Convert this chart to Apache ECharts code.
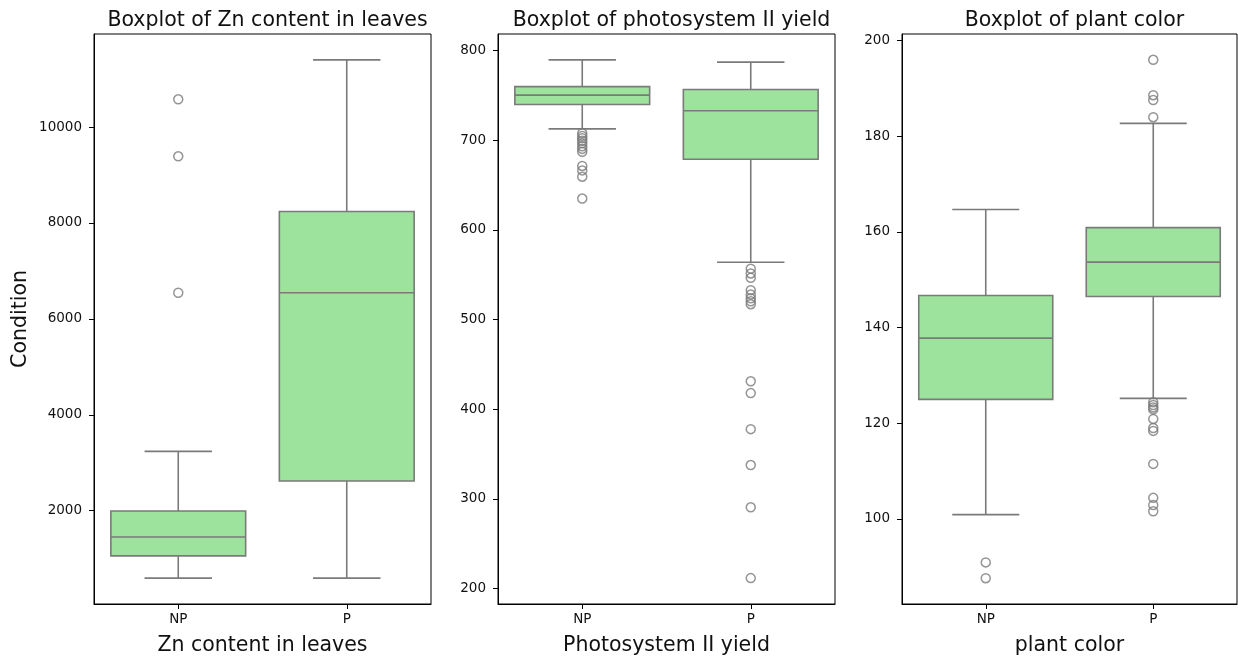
<!DOCTYPE html>
<html>
<head>
<meta charset="utf-8">
<script src="https://cdn.jsdelivr.net/npm/echarts@6/dist/echarts.min.js"></script>
<style>html,body{margin:0;padding:0;background:#fff}#c{width:1238px;height:656px}</style>
</head>
<body>
<div id="c"></div>
<script>
const categories = ['NP', 'P'];

// [min whisker, Q1, median, Q3, max whisker]
const znBoxNP = [595, 1059, 1452, 1993, 3238];
const znBoxP = [595, 2619, 6544, 8238, 11399];
const znOutNP = [10578, 9389, 6544];
const znOutP = [];

const psBoxNP = [712.7, 740, 750.4, 759.9, 789.7];
const psBoxP = [563.9, 678.8, 733, 756.6, 787.2];
const psOutNP = [707.8, 704.9, 702.4, 699.5, 696.6, 693.3, 690.4, 687.1, 671.4, 666.4, 659.4, 635.0];
const psOutP = [556.8, 551.4, 546.5, 532.8, 527.9, 523.7, 520.4, 517.1, 431.1, 417.9, 377.7, 337.6, 290.5, 211.5];

const pcBoxNP = [100.9, 125.0, 137.8, 146.7, 164.7];
const pcBoxP = [125.2, 146.5, 153.7, 160.9, 182.7];
const pcOutNP = [90.9, 87.6];
const pcOutP = [196.0, 188.6, 187.6, 184.0, 124.4, 123.8, 123.3, 122.9, 120.9, 119.0, 118.4, 111.5, 104.4, 102.9, 101.6];

const titles = ['Boxplot of Zn content in leaves', 'Boxplot of photosystem II yield', 'Boxplot of plant color'];
const xNames = ['Zn content in leaves', 'Photosystem II yield', 'plant color'];
const yName = 'Condition';
const yTicks1 = [2000, 4000, 6000, 8000, 10000];
const yTicks2 = [200, 300, 400, 500, 600, 700, 800];
const yTicks3 = [100, 120, 140, 160, 180, 200];
const yRanges = [[55, 11939], [182.6, 818.6], [82.2, 201.4]];

const FILL = '#9de39d';
const LINE = '#7a7a7a';
const FONT = 'DejaVu Sans';

const grids = [
  {left: 94, width: 337, top: 34, bottom: 52},
  {left: 498, width: 337, top: 34, bottom: 52},
  {left: 902, width: 335, top: 34, bottom: 52}
];

function renderBox(params, api) {
  const x = api.value(0);
  const vals = [api.value(1), api.value(2), api.value(3), api.value(4), api.value(5)];
  const bw = api.size([1, 0])[0];
  const half = bw * 0.4;
  const cap = bw * 0.2;
  const p = vals.map(v => api.coord([x, v]));
  const cx = p[0][0];
  const style = {stroke: LINE, lineWidth: 1.6, fill: null};
  return {
    type: 'group',
    children: [
      {type: 'line', shape: {x1: cx, y1: p[0][1], x2: cx, y2: p[1][1]}, style: style},
      {type: 'line', shape: {x1: cx, y1: p[3][1], x2: cx, y2: p[4][1]}, style: style},
      {type: 'line', shape: {x1: cx - cap, y1: p[0][1], x2: cx + cap, y2: p[0][1]}, style: style},
      {type: 'line', shape: {x1: cx - cap, y1: p[4][1], x2: cx + cap, y2: p[4][1]}, style: style},
      {type: 'rect', shape: {x: cx - half, y: p[3][1], width: half * 2, height: p[1][1] - p[3][1]},
        style: {fill: FILL, stroke: LINE, lineWidth: 1.6}},
      {type: 'line', shape: {x1: cx - half, y1: p[2][1], x2: cx + half, y2: p[2][1]}, style: style}
    ]
  };
}

function boxData(np, p) {
  return [[0].concat(np), [1].concat(p)];
}
function outData(np, p) {
  return np.map(v => [categories[0], v]).concat(p.map(v => [categories[1], v]));
}

const boxes = [boxData(znBoxNP, znBoxP), boxData(psBoxNP, psBoxP), boxData(pcBoxNP, pcBoxP)];
const outs = [outData(znOutNP, znOutP), outData(psOutNP, psOutP), outData(pcOutNP, pcOutP)];
const yTicks = [yTicks1, yTicks2, yTicks3];

const option = {
  animation: false,
  backgroundColor: '#fff',
  textStyle: {fontFamily: FONT},
  title: titles.map((t, i) => ({
    text: t,
    left: grids[i].left + grids[i].width / 2,
    textAlign: 'center',
    top: 5,
    textStyle: {fontFamily: FONT, fontSize: 20.5, fontWeight: 'normal', color: '#111'}
  })),
  grid: grids.map(g => Object.assign({show: true, borderColor: '#000', borderWidth: 1, backgroundColor: 'transparent', containLabel: false, outerBoundsMode: 'none'}, g)),
  xAxis: grids.map((g, i) => ({
    type: 'category',
    gridIndex: i,
    data: categories,
    boundaryGap: true,
    name: xNames[i],
    nameLocation: 'middle',
    nameGap: 31,
    nameTextStyle: {fontFamily: FONT, fontSize: 20.5, color: '#111'},
    axisLine: {show: true, lineStyle: {color: '#000', width: 1}},
    axisTick: {show: true, alignWithLabel: true, length: 5, lineStyle: {color: '#000'}},
    axisLabel: {fontFamily: FONT, fontSize: 13.5, color: '#111', margin: 8},
    splitLine: {show: false}
  })),
  yAxis: grids.map((g, i) => ({
    type: 'value',
    gridIndex: i,
    min: yRanges[i][0],
    max: yRanges[i][1],
    name: i === 0 ? yName : '',
    nameLocation: 'middle',
    nameGap: 63,
    nameTextStyle: {fontFamily: FONT, fontSize: 20.5, color: '#111'},
    axisLine: {show: true, lineStyle: {color: '#000', width: 1}},
    axisTick: {show: true, length: 5, lineStyle: {color: '#000'}, customValues: yTicks[i]},
    axisLabel: {fontFamily: FONT, fontSize: 13.5, color: '#111', margin: 12, customValues: yTicks[i],
      formatter: v => String(v)},
    splitLine: {show: false}
  })),
  series: [].concat(
    boxes.map((d, i) => ({
      type: 'custom',
      xAxisIndex: i,
      yAxisIndex: i,
      renderItem: renderBox,
      encode: {x: 0, y: [1, 2, 3, 4, 5]},
      data: d,
      z: 2
    })),
    outs.map((d, i) => ({
      type: 'scatter',
      xAxisIndex: i,
      yAxisIndex: i,
      data: d,
      symbol: 'circle',
      symbolSize: 9,
      itemStyle: {color: 'rgba(0,0,0,0)', borderColor: LINE, borderWidth: 1.5},
      z: 3
    }))
  )
};

const chart = echarts.init(document.getElementById('c'), null, {renderer: 'canvas'});
chart.setOption(option);
</script>
</body>
</html>
